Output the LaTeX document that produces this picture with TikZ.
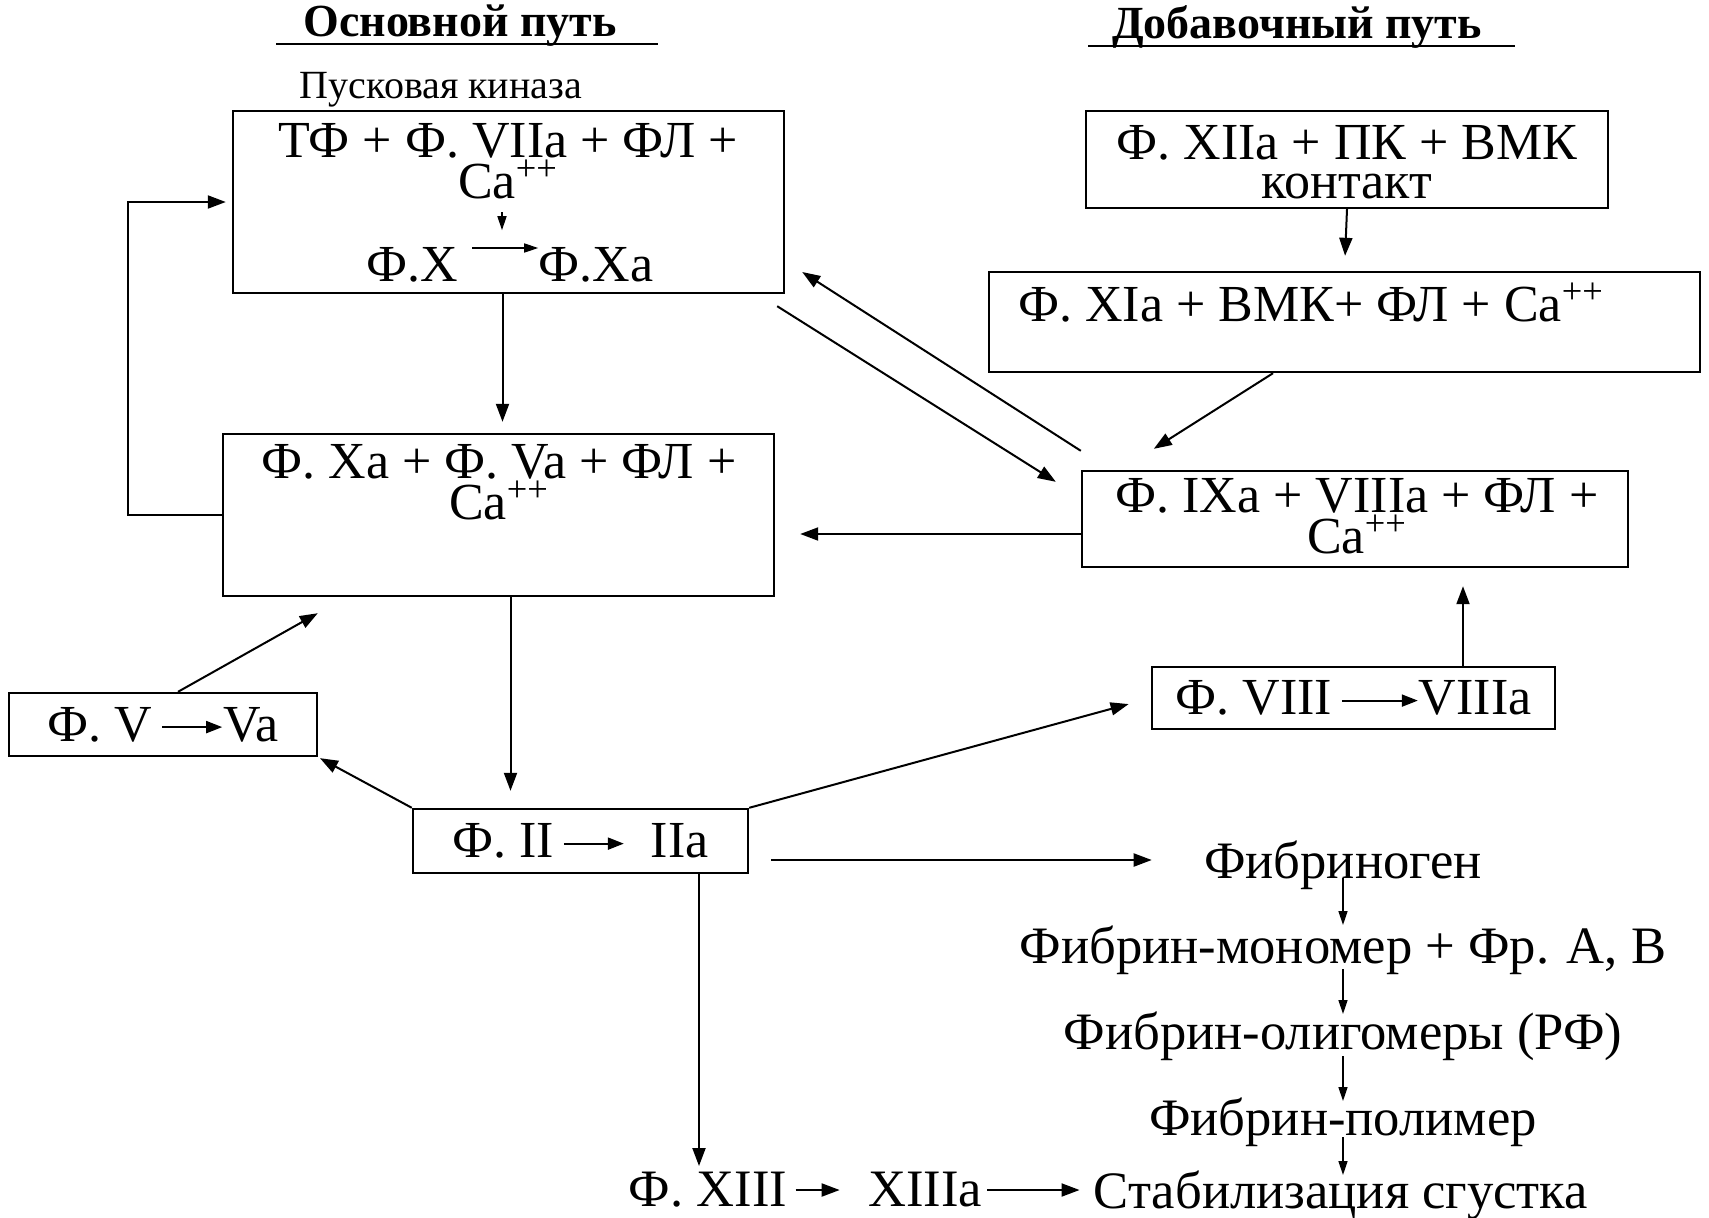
\documentclass[tikz,border=0pt]{standalone}
\usepackage{fontspec}
\setmainfont{Liberation Serif}
\usetikzlibrary{arrows.meta, positioning}

\newcommand{\yields}[1]{\tikz[baseline=-0.27em]\draw[line width=1pt,-{Triangle[length=8pt,width=6pt]}] (0pt,0pt) -- (#1,0pt);}

\begin{document}
\begin{tikzpicture}[x=0.5pt, y=-0.5pt]
    % Styles
    \tikzstyle{box} = [rectangle, draw=black, line width=1.2pt, inner sep=0pt]
    \tikzstyle{txt} = [inner sep=0pt, font=\fontsize{26}{19.5}\selectfont, align=center]
    \tikzstyle{title} = [inner sep=0pt, font=\fontsize{23}{28}\selectfont\bfseries]
    \tikzstyle{chain} = [inner sep=0pt, font=\fontsize{26.3}{30}\selectfont]
    \tikzstyle{arrow} = [line width=1pt, -{Triangle[length=9pt, width=6.5pt]}]
    \tikzstyle{thin} = [line width=0.8pt, -{Triangle[length=7pt, width=4.5pt]}]

    \useasboundingbox (0,0) rectangle (1709,1217);

    % Headings
    \node (mainpath) [title] at (460,26) {Основной путь};
    \node (extrapath) [title] at (1297,27) {Добавочный путь};
    \draw [line width=1pt] (276,44) -- (658,44);
    \draw [line width=1pt] (1088,46) -- (1515,46);
    \node (trigger) [inner sep=0pt, font=\fontsize{20}{24}\selectfont] at (441,90) {Пусковая киназа};

    % Boxes
    \node (tfbox) [box, minimum width=275.5pt, minimum height=91pt] at (508.5,202) {};
    \node (tftext) [txt] at (508,161) {ТФ + Ф. VIIa + ФЛ +\\Ca\textsuperscript{++}};
    \node (fx) [txt] at (412,265) {Ф.X};
    \node (fxa) [txt] at (596,265) {Ф.Xa};

    \node (xiibox) [box, minimum width=261pt, minimum height=48.5pt] at (1347,159.5) {};
    \node (xiitext) [txt] at (1347,162) {Ф. XIIa + ПК + ВМК\\контакт};
    \node (xibox) [box, minimum width=355.5pt, minimum height=50pt] at (1344.5,322) {};
    \node (xitext) [txt] at (1311,303) {Ф. XIa + ВМК+ ФЛ + Ca\textsuperscript{++}};

    \node (xabox) [box, minimum width=275.5pt, minimum height=81pt] at (498.5,515) {};
    \node (xatext) [txt] at (499,482) {Ф. Xa + Ф. Va + ФЛ +\\Ca\textsuperscript{++}};
    \node (ixabox) [box, minimum width=273pt, minimum height=48pt] at (1355,519) {};
    \node (ixatext) [txt] at (1357,516) {Ф. IXa + VIIIa + ФЛ +\\Ca\textsuperscript{++}};

    \node (vbox) [box, txt, minimum width=154pt, minimum height=31.5pt] at (163,724.5) {Ф. V\,\yields{30pt}Va};
    \node (viiibox) [box, txt, minimum width=201.5pt, minimum height=31pt] at (1353.5,698) {Ф. VIII\,\yields{38pt}VIIIa};
    \node (iibox) [box, txt, minimum width=167.5pt, minimum height=32pt] at (580.5,841) {Ф. II\,\yields{30pt}\enspace IIa};

    % Fibrin chain
    \node (fg) [chain] at (1343,865.5) {Фибриноген};
    \node (fm) [chain] at (1343,950.5) {Фибрин-мономер + Фр. А, В};
    \node (fo) [chain] at (1343,1036.5) {Фибрин-олигомеры (РФ)};
    \node (fp) [chain] at (1343,1122.5) {Фибрин-полимер};
    \node (stab) [chain] at (1341,1195) {Стабилизация сгустка};
    \node (f13) [chain] at (708,1190) {Ф. XIII};
    \node (f13a) [chain] at (925,1190) {XIIIa};

    % Arrows
    \draw [thin, shorten <=6.5pt, shorten >=8.5pt] ([xshift=-3pt]tftext.south) -- ([xshift=-3pt]tftext.south |- fx.north);
    \draw [thin] ([xshift=7pt,yshift=8.5pt]fx.east) -- ([yshift=8.5pt]fxa.west);
    \draw [arrow, shorten >=7.5pt] (xiibox.south) -- (xibox.north);
    \draw [arrow, shorten >=5.5pt] ([xshift=-3pt]tfbox.south) -- ([xshift=-3pt]tfbox.south |- xabox.north);
    \draw [arrow, shorten >=3pt] (xabox.west) -- ++(-94,0) |- (tfbox.west);
    \draw [arrow, shorten >=8.5pt] ([xshift=6pt]xabox.south) -- ([xshift=6pt]xabox.south |- iibox.north);
    \draw [arrow, shorten >=12.5pt] ([yshift=-7.5pt]ixabox.west) -- ([yshift=-7.5pt]ixabox.west -| xabox.east);
    \draw [arrow] ([yshift=9.5pt]ixabox.north west) -- ([xshift=8.5pt,yshift=-35pt]tfbox.east);
    \draw [arrow] ([xshift=-4pt,yshift=-6pt]tfbox.south east) -- ([xshift=-12.5pt,yshift=-6pt]ixabox.north west);
    \draw [arrow] ([xshift=-35.75pt]xibox.south) -- ([xshift=36.5pt,yshift=10.5pt]ixabox.north west);
    \draw [arrow, shorten >=9pt] ([xshift=54.75pt]viiibox.north) -- ([xshift=54.75pt]viiibox.north |- ixabox.south);
    \draw [arrow, shorten >=11.5pt] (iibox.north east) -- (viiibox.west);
    \draw [arrow, shorten >=1pt] (iibox.north west) -- (vbox.south east);
    \draw [arrow] ([xshift=7.5pt]vbox.north) -- ([xshift=48pt,yshift=-8pt]xabox.south west);
    \draw [arrow, shorten >=26pt] ([xshift=11pt,yshift=-9.5pt]iibox.east) -- ([yshift=-9.5pt]fg.west |- iibox.east);
    \draw [arrow, shorten >=3pt] ([xshift=59.25pt]iibox.south) -- ([xshift=59.25pt]iibox.south |- f13.north);
    \draw [thin] ([yshift=-6.25pt]fg.center) -- ([yshift=12.75pt]fg.center |- fm.center);
    \draw [thin] ([yshift=-9.25pt]fm.center) -- ([yshift=11.25pt]fm.center |- fo.center);
    \draw [thin] ([yshift=-9.75pt]fo.center) -- ([yshift=10.75pt]fo.center |- fp.center);
    \draw [thin] ([yshift=-7.25pt]fp.center) -- ([yshift=10pt]fp.center |- stab.center);
    \draw [arrow] ([xshift=4pt]f13.east) -- ([xshift=-14pt]f13a.west);
    \draw [arrow] ([xshift=2.5pt]f13a.east) -- ([xshift=-7pt]stab.west |- f13a.east);
\end{tikzpicture}
\end{document}
